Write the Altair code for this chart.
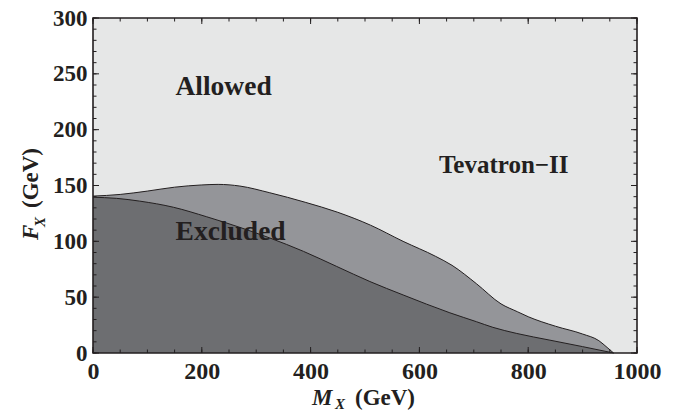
import altair as alt
import pandas as pd

# ---- data ----
upper_m = [0, 50, 100, 150, 200, 230, 270, 325, 390, 450, 510, 570, 630, 660, 705, 750, 780, 800, 850, 900, 930, 945, 957]
upper_f = [140.5, 142, 145, 148.5, 150.5, 151, 149.5, 143.5, 135, 126, 114.5, 100, 86.5, 78.5, 62, 44, 37, 32.5, 24, 17, 11, 5, 0]

lower_m = [0, 43, 86, 148, 209, 270, 325, 387, 448, 509, 570, 656, 705, 735, 779, 840, 900, 957]
lower_f = [139.5, 138.5, 136, 130.5, 122, 112.5, 103, 91, 77.5, 64, 52, 36, 28, 23, 17.5, 11.5, 5.7, 0]

x_ticks = [0, 200, 400, 600, 800, 1000]
y_ticks = [0, 50, 100, 150, 200, 250, 300]
x_minor = list(range(0, 1001, 50))
y_minor = list(range(0, 301, 10))

ann_text = ["Allowed", "Excluded", "Tevatron\u2212II"]
ann_m = [240, 253, 755]
ann_f = [231, 101, 161]
ann_size = [27.5, 27.5, 25]

# ---- styling ----
W, H = 544, 335
C_LIGHT = "#e6e7e7"
C_MID = "#949599"
C_DARK = "#6d6e71"
INK = "#231f20"
FONT = "Liberation Serif"

xs = alt.Scale(domain=[0, 1000], nice=False, zero=False)
ys = alt.Scale(domain=[0, 300], nice=False, zero=False)

up = pd.DataFrame({"m": upper_m, "f": upper_f})
lo = pd.DataFrame({"m": lower_m, "f": lower_f})

x_axis = alt.Axis(values=x_ticks, format="d", labelFont=FONT, labelFontSize=24, labelFontWeight="bold",
                  labelColor=INK, tickSize=0, domain=False, grid=False, title=None,
                  labelPadding=6, labelFlush=False, labelOverlap=False)
y_axis = alt.Axis(values=y_ticks, format="d", labelFont=FONT, labelFontSize=23, labelFontWeight="bold",
                  labelColor=INK, tickSize=0, domain=False, grid=False, title=None,
                  labelPadding=6, labelFlush=False, labelOverlap=False,
                  labelBaseline="alphabetic", labelOffset=7)

area_up = alt.Chart(up).mark_area(interpolate="monotone", color=C_MID).encode(
    x=alt.X("m:Q", scale=xs, axis=x_axis),
    y=alt.Y("f:Q", scale=ys, axis=y_axis),
)
line_up = alt.Chart(up).mark_line(interpolate="monotone", color=INK, strokeWidth=1).encode(
    x=alt.X("m:Q", scale=xs), y=alt.Y("f:Q", scale=ys))
area_lo = alt.Chart(lo).mark_area(interpolate="monotone", color=C_DARK).encode(
    x=alt.X("m:Q", scale=xs), y=alt.Y("f:Q", scale=ys))
line_lo = alt.Chart(lo).mark_line(interpolate="monotone", color=INK, strokeWidth=1).encode(
    x=alt.X("m:Q", scale=xs), y=alt.Y("f:Q", scale=ys))

layers = [area_up, area_lo, line_up, line_lo]

# annotations
for t, m, f, s in zip(ann_text, ann_m, ann_f, ann_size):
    layers.append(
        alt.Chart(pd.DataFrame({"m": [m], "f": [f], "t": [t]})).mark_text(
            font=FONT, fontSize=s, fontWeight="bold", color=INK, align="center", baseline="alphabetic"
        ).encode(x=alt.X("m:Q", scale=xs), y=alt.Y("f:Q", scale=ys), text="t:N")
    )

# inward ticks on all four sides
def xticks(vals, y0, y1):
    return alt.Chart(pd.DataFrame({"m": vals})).mark_rule(color=INK, strokeWidth=1).encode(
        x=alt.X("m:Q", scale=xs), y=alt.value(y0), y2=alt.value(y1))

def yticks(vals, x0, x1):
    return alt.Chart(pd.DataFrame({"f": vals})).mark_rule(color=INK, strokeWidth=1).encode(
        y=alt.Y("f:Q", scale=ys), x=alt.value(x0), x2=alt.value(x1))

MAJ, MIN = 6, 3.5
layers += [
    xticks(x_minor, H, H - MIN), xticks(x_ticks, H, H - MAJ),
    xticks(x_minor, 0, MIN), xticks(x_ticks, 0, MAJ),
    yticks(y_minor, 0, MIN), yticks(y_ticks, 0, MAJ),
    yticks(y_minor, W, W - MIN), yticks(y_ticks, W, W - MAJ),
]

# frame
layers.append(
    alt.Chart(pd.DataFrame({"a": [0]})).mark_rect(fill=None, stroke=INK, strokeWidth=1.6).encode(
        x=alt.value(0), x2=alt.value(W), y=alt.value(0), y2=alt.value(H))
)

# axis titles with subscripts
def txt(t, x, y, size, style="normal", angle=0):
    return alt.Chart(pd.DataFrame({"t": [t]})).mark_text(
        font=FONT, fontSize=size, fontWeight="bold", fontStyle=style, color=INK,
        align="left", baseline="alphabetic", angle=angle
    ).encode(x=alt.value(x), y=alt.value(y), text="t:N")

layers += [
    txt("M", 219, 387, 23, "italic"),
    txt("X", 242, 391, 15, "italic"),
    txt("(GeV)", 262, 387, 23),
    txt("F", -55, 222, 23, "italic", 270),
    txt("X", -48, 209, 15, "italic", 270),
    txt("(GeV)", -55, 190, 23, "normal", 270),
]

chart = alt.layer(*layers).properties(
    width=W, height=H,
    autosize=alt.AutoSizeParams(type="none"),
    padding={"left": 85, "top": 10, "right": 38, "bottom": 58},
).configure_view(fill=C_LIGHT, stroke=None)

chart.save("out.html", embed_options={"renderer": "svg", "actions": False})
